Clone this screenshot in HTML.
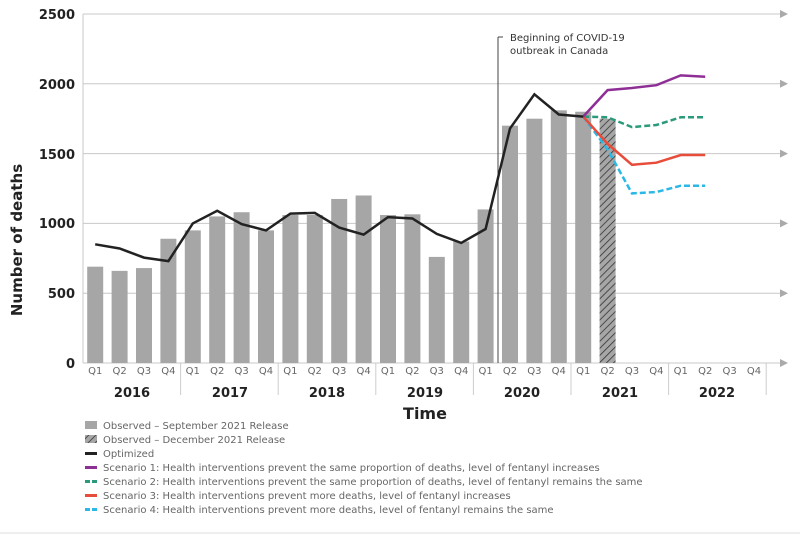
<!DOCTYPE html>
<html><head><meta charset="utf-8"><style>
body{margin:0;background:#fff;}
svg{display:block;font-family:"DejaVu Sans","Liberation Sans",sans-serif;}
</style></head><body>
<svg width="800" height="535" viewBox="0 0 800 535">
<defs>
<pattern id="h" width="5" height="5" patternUnits="userSpaceOnUse" patternTransform="rotate(45)">
<rect width="5" height="5" fill="#a6a6a6"/><line x1="0" y1="0" x2="0" y2="5" stroke="#333" stroke-width="1.6"/>
</pattern>
</defs>
<g stroke="#c8c8c8" stroke-width="1">
<line x1="83" y1="14" x2="780" y2="14"/><line x1="83" y1="83.8" x2="780" y2="83.8"/><line x1="83" y1="153.6" x2="780" y2="153.6"/><line x1="83" y1="223.4" x2="780" y2="223.4"/><line x1="83" y1="293.2" x2="780" y2="293.2"/><line x1="83" y1="363" x2="780" y2="363"/>
<line x1="83" y1="14" x2="83" y2="363"/>
</g>
<g fill="#aaa">
<polygon points="780,10 788,14 780,18"/><polygon points="780,79.8 788,83.8 780,87.8"/><polygon points="780,149.6 788,153.6 780,157.6"/><polygon points="780,219.4 788,223.4 780,227.4"/><polygon points="780,289.2 788,293.2 780,297.2"/><polygon points="780,359 788,363 780,367"/>
</g>
<g font-size="13" font-weight="bold" fill="#222" text-anchor="end">
<text x="75" y="19">2500</text><text x="75" y="89">2000</text><text x="75" y="159">1500</text><text x="75" y="228">1000</text><text x="75" y="298">500</text><text x="75" y="368">0</text>
</g>
<text transform="translate(22,240) rotate(-90)" font-size="15" font-weight="bold" fill="#222" text-anchor="middle">Number of deaths</text>
<g id="bars" fill="#a6a6a6"></g>
<line x1="498" y1="37" x2="498" y2="363" stroke="#444" stroke-width="1"/>
<line x1="498" y1="37" x2="503" y2="37" stroke="#444" stroke-width="1"/>
<text x="510" y="41" font-size="10" fill="#333">Beginning of COVID-19</text>
<text x="510" y="54" font-size="10" fill="#333">outbreak in Canada</text>
<g id="lines" fill="none" stroke-width="2.5"></g>
<g id="xlab" font-size="10" fill="#666" text-anchor="middle"></g>
<g font-size="13" font-weight="bold" fill="#222" text-anchor="middle">
<text x="132" y="397">2016</text><text x="230" y="397">2017</text><text x="327" y="397">2018</text><text x="425" y="397">2019</text><text x="522" y="397">2020</text><text x="620" y="397">2021</text><text x="717" y="397">2022</text>
</g>
<text x="425" y="419" font-size="16" font-weight="bold" fill="#222" text-anchor="middle">Time</text>
<g font-size="10" fill="#666">
<rect x="85" y="421" width="12" height="8" fill="#a6a6a6"/><text x="103" y="429">Observed – September 2021 Release</text>
<rect x="85" y="435" width="12" height="8" fill="url(#h)"/><text x="103" y="443">Observed – December 2021 Release</text>
<line x1="85" y1="453.5" x2="97" y2="453.5" stroke="#222" stroke-width="3"/><text x="103" y="457">Optimized</text>
<line x1="85" y1="467.5" x2="97" y2="467.5" stroke="#8e2f96" stroke-width="3"/><text x="103" y="471">Scenario 1: Health interventions prevent the same proportion of deaths, level of fentanyl increases</text>
<line x1="85" y1="481.5" x2="97" y2="481.5" stroke="#2a9a7a" stroke-width="3" stroke-dasharray="5,2"/><text x="103" y="485">Scenario 2: Health interventions prevent the same proportion of deaths, level of fentanyl remains the same</text>
<line x1="85" y1="495.5" x2="97" y2="495.5" stroke="#e84c3a" stroke-width="3"/><text x="103" y="499">Scenario 3: Health interventions prevent more deaths, level of fentanyl increases</text>
<line x1="85" y1="509.5" x2="97" y2="509.5" stroke="#2bb8e6" stroke-width="3" stroke-dasharray="5,2"/><text x="103" y="513">Scenario 4: Health interventions prevent more deaths, level of fentanyl remains the same</text>
</g>
<line x1="0" y1="533" x2="800" y2="533" stroke="#ddd"/>
<script>
var ns="http://www.w3.org/2000/svg";
function cx(i){return 95.2+i*24.4;}
function y(v){return 363-v*0.1396;}
var bars=[690,660,680,890,950,1050,1080,950,1060,1060,1175,1200,1060,1065,760,870,1100,1700,1750,1810,1800];
var g=document.getElementById('bars');
bars.forEach(function(v,i){var r=document.createElementNS(ns,'rect');r.setAttribute('x',cx(i)-8);r.setAttribute('y',y(v));r.setAttribute('width',16);r.setAttribute('height',363-y(v));g.appendChild(r);});
var r=document.createElementNS(ns,'rect');r.setAttribute('x',cx(21)-8);r.setAttribute('y',y(1750));r.setAttribute('width',16);r.setAttribute('height',363-y(1750));r.setAttribute('fill','url(#h)');g.appendChild(r);
function line(vals,start,col,dash){var p=vals.map(function(v,i){return cx(start+i).toFixed(1)+','+y(v).toFixed(1);}).join(' ');var l=document.createElementNS(ns,'polyline');l.setAttribute('points',p);l.setAttribute('stroke',col);if(dash)l.setAttribute('stroke-dasharray',dash);document.getElementById('lines').appendChild(l);}
line([1765,1760,1690,1705,1760,1760],20,'#2a9a7a','6,3');
line([1765,1530,1215,1225,1270,1270],20,'#2bb8e6','6,3');
line([1765,1570,1420,1435,1490,1490],20,'#e84c3a');
line([1765,1955,1970,1990,2060,2050],20,'#8e2f96');
line([850,820,755,730,1000,1090,995,950,1070,1075,970,920,1045,1035,925,860,960,1680,1925,1780,1765],0,'#222');
var xl=document.getElementById('xlab');
for(var i=0;i<28;i++){var t=document.createElementNS(ns,'text');t.setAttribute('x',cx(i));t.setAttribute('y',374);t.textContent='Q'+(i%4+1);xl.appendChild(t);}
for(var k=1;k<=7;k++){var l=document.createElementNS(ns,'line');var x=83+k*4*24.4;l.setAttribute('x1',x);l.setAttribute('x2',x);l.setAttribute('y1',363);l.setAttribute('y2',395);l.setAttribute('stroke','#ccc');xl.appendChild(l);}
</script>
</svg>
</body></html>
